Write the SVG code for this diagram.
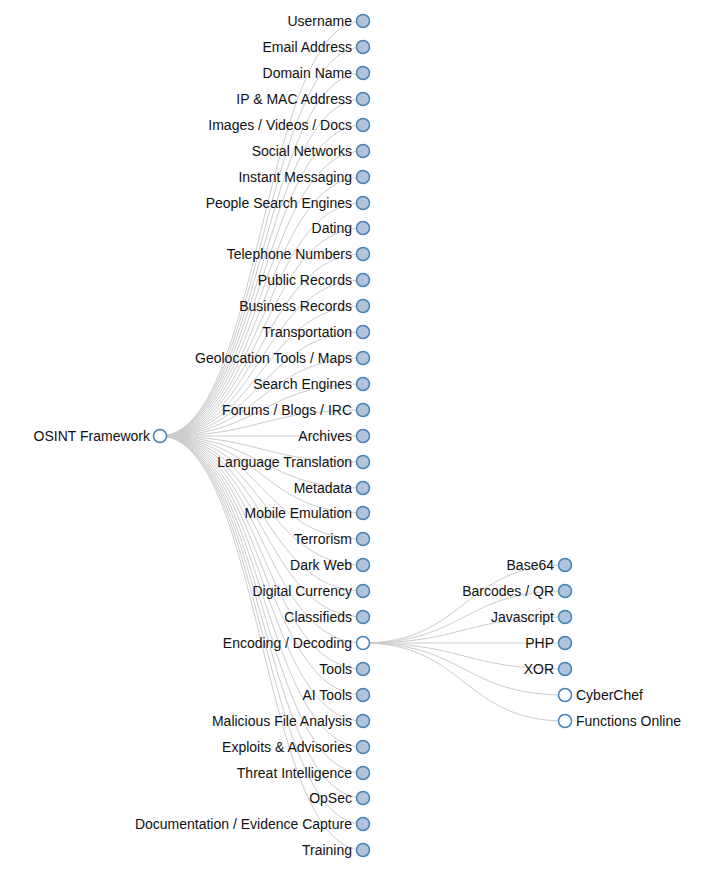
<svg xmlns="http://www.w3.org/2000/svg" width="719" height="879" viewBox="0 0 719 879">
<style>
.l{fill:none;stroke:#ccc;stroke-width:1}
circle{stroke:#4682b4;stroke-width:1.5;fill:#b0c4de}
circle.o{fill:#fff}
text{font-family:"Liberation Sans",Arial,sans-serif;font-size:14px;fill:#111}
.e{text-anchor:end}
</style>
<rect width="719" height="879" fill="#fff"/>
<g id="links">
<path class="l" d="M160,436C261.5,436 261.5,21 363,21"/>
<path class="l" d="M160,436C261.5,436 261.5,47 363,47"/>
<path class="l" d="M160,436C261.5,436 261.5,73 363,73"/>
<path class="l" d="M160,436C261.5,436 261.5,99 363,99"/>
<path class="l" d="M160,436C261.5,436 261.5,125 363,125"/>
<path class="l" d="M160,436C261.5,436 261.5,151 363,151"/>
<path class="l" d="M160,436C261.5,436 261.5,177 363,177"/>
<path class="l" d="M160,436C261.5,436 261.5,203 363,203"/>
<path class="l" d="M160,436C261.5,436 261.5,228 363,228"/>
<path class="l" d="M160,436C261.5,436 261.5,254 363,254"/>
<path class="l" d="M160,436C261.5,436 261.5,280 363,280"/>
<path class="l" d="M160,436C261.5,436 261.5,306 363,306"/>
<path class="l" d="M160,436C261.5,436 261.5,332 363,332"/>
<path class="l" d="M160,436C261.5,436 261.5,358 363,358"/>
<path class="l" d="M160,436C261.5,436 261.5,384 363,384"/>
<path class="l" d="M160,436C261.5,436 261.5,410 363,410"/>
<path class="l" d="M160,436C261.5,436 261.5,436 363,436"/>
<path class="l" d="M160,436C261.5,436 261.5,462 363,462"/>
<path class="l" d="M160,436C261.5,436 261.5,488 363,488"/>
<path class="l" d="M160,436C261.5,436 261.5,513 363,513"/>
<path class="l" d="M160,436C261.5,436 261.5,539 363,539"/>
<path class="l" d="M160,436C261.5,436 261.5,565 363,565"/>
<path class="l" d="M160,436C261.5,436 261.5,591 363,591"/>
<path class="l" d="M160,436C261.5,436 261.5,617 363,617"/>
<path class="l" d="M160,436C261.5,436 261.5,643 363,643"/>
<path class="l" d="M160,436C261.5,436 261.5,669 363,669"/>
<path class="l" d="M160,436C261.5,436 261.5,695 363,695"/>
<path class="l" d="M160,436C261.5,436 261.5,721 363,721"/>
<path class="l" d="M160,436C261.5,436 261.5,747 363,747"/>
<path class="l" d="M160,436C261.5,436 261.5,773 363,773"/>
<path class="l" d="M160,436C261.5,436 261.5,798 363,798"/>
<path class="l" d="M160,436C261.5,436 261.5,824 363,824"/>
<path class="l" d="M160,436C261.5,436 261.5,850 363,850"/>
<path class="l" d="M363,643C464,643 464,565 565,565"/>
<path class="l" d="M363,643C464,643 464,591 565,591"/>
<path class="l" d="M363,643C464,643 464,617 565,617"/>
<path class="l" d="M363,643C464,643 464,643 565,643"/>
<path class="l" d="M363,643C464,643 464,669 565,669"/>
<path class="l" d="M363,643C464,643 464,695 565,695"/>
<path class="l" d="M363,643C464,643 464,721 565,721"/>
</g>
<g id="root"><circle class="o" cx="160" cy="436" r="6.5"/><text class="e" x="150" y="441">OSINT Framework</text></g>
<g id="n1"><circle cx="363" cy="21" r="6.5"/><text class="e" x="352" y="26">Username</text></g>
<g id="n2"><circle cx="363" cy="47" r="6.5"/><text class="e" x="352" y="52">Email Address</text></g>
<g id="n3"><circle cx="363" cy="73" r="6.5"/><text class="e" x="352" y="78">Domain Name</text></g>
<g id="n4"><circle cx="363" cy="99" r="6.5"/><text class="e" x="352" y="104">IP &amp; MAC Address</text></g>
<g id="n5"><circle cx="363" cy="125" r="6.5"/><text class="e" x="352" y="130">Images / Videos / Docs</text></g>
<g id="n6"><circle cx="363" cy="151" r="6.5"/><text class="e" x="352" y="156">Social Networks</text></g>
<g id="n7"><circle cx="363" cy="177" r="6.5"/><text class="e" x="352" y="182">Instant Messaging</text></g>
<g id="n8"><circle cx="363" cy="203" r="6.5"/><text class="e" x="352" y="208">People Search Engines</text></g>
<g id="n9"><circle cx="363" cy="228" r="6.5"/><text class="e" x="352" y="233">Dating</text></g>
<g id="n10"><circle cx="363" cy="254" r="6.5"/><text class="e" x="352" y="259">Telephone Numbers</text></g>
<g id="n11"><circle cx="363" cy="280" r="6.5"/><text class="e" x="352" y="285">Public Records</text></g>
<g id="n12"><circle cx="363" cy="306" r="6.5"/><text class="e" x="352" y="311">Business Records</text></g>
<g id="n13"><circle cx="363" cy="332" r="6.5"/><text class="e" x="352" y="337">Transportation</text></g>
<g id="n14"><circle cx="363" cy="358" r="6.5"/><text class="e" x="352" y="363">Geolocation Tools / Maps</text></g>
<g id="n15"><circle cx="363" cy="384" r="6.5"/><text class="e" x="352" y="389">Search Engines</text></g>
<g id="n16"><circle cx="363" cy="410" r="6.5"/><text class="e" x="352" y="415">Forums / Blogs / IRC</text></g>
<g id="n17"><circle cx="363" cy="436" r="6.5"/><text class="e" x="352" y="441">Archives</text></g>
<g id="n18"><circle cx="363" cy="462" r="6.5"/><text class="e" x="352" y="467">Language Translation</text></g>
<g id="n19"><circle cx="363" cy="488" r="6.5"/><text class="e" x="352" y="493">Metadata</text></g>
<g id="n20"><circle cx="363" cy="513" r="6.5"/><text class="e" x="352" y="518">Mobile Emulation</text></g>
<g id="n21"><circle cx="363" cy="539" r="6.5"/><text class="e" x="352" y="544">Terrorism</text></g>
<g id="n22"><circle cx="363" cy="565" r="6.5"/><text class="e" x="352" y="570">Dark Web</text></g>
<g id="n23"><circle cx="363" cy="591" r="6.5"/><text class="e" x="352" y="596">Digital Currency</text></g>
<g id="n24"><circle cx="363" cy="617" r="6.5"/><text class="e" x="352" y="622">Classifieds</text></g>
<g id="n25"><circle class="o" cx="363" cy="643" r="6.5"/><text class="e" x="352" y="648">Encoding / Decoding</text></g>
<g id="n26"><circle cx="363" cy="669" r="6.5"/><text class="e" x="352" y="674">Tools</text></g>
<g id="n27"><circle cx="363" cy="695" r="6.5"/><text class="e" x="352" y="700">AI Tools</text></g>
<g id="n28"><circle cx="363" cy="721" r="6.5"/><text class="e" x="352" y="726">Malicious File Analysis</text></g>
<g id="n29"><circle cx="363" cy="747" r="6.5"/><text class="e" x="352" y="752">Exploits &amp; Advisories</text></g>
<g id="n30"><circle cx="363" cy="773" r="6.5"/><text class="e" x="352" y="778">Threat Intelligence</text></g>
<g id="n31"><circle cx="363" cy="798" r="6.5"/><text class="e" x="352" y="803">OpSec</text></g>
<g id="n32"><circle cx="363" cy="824" r="6.5"/><text class="e" x="352" y="829">Documentation / Evidence Capture</text></g>
<g id="n33"><circle cx="363" cy="850" r="6.5"/><text class="e" x="352" y="855">Training</text></g>
<g id="e1"><circle cx="565" cy="565" r="6.5"/><text class="e" x="554" y="570">Base64</text></g>
<g id="e2"><circle cx="565" cy="591" r="6.5"/><text class="e" x="554" y="596">Barcodes / QR</text></g>
<g id="e3"><circle cx="565" cy="617" r="6.5"/><text class="e" x="554" y="622">Javascript</text></g>
<g id="e4"><circle cx="565" cy="643" r="6.5"/><text class="e" x="554" y="648">PHP</text></g>
<g id="e5"><circle cx="565" cy="669" r="6.5"/><text class="e" x="554" y="674">XOR</text></g>
<g id="e6"><circle class="o" cx="565" cy="695" r="6.5"/><text x="576" y="700">CyberChef</text></g>
<g id="e7"><circle class="o" cx="565" cy="721" r="6.5"/><text x="576" y="726">Functions Online</text></g>
</svg>
